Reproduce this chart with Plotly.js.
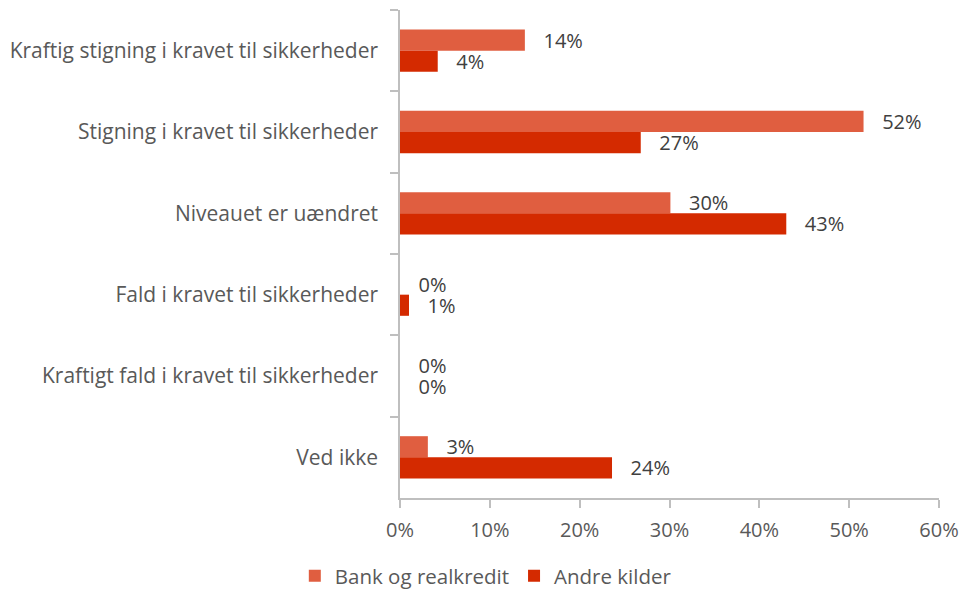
<!DOCTYPE html>
<html>
<head>
<meta charset="utf-8">
<script src="https://cdn.plot.ly/plotly-3.0.1.min.js"></script>
<style>
  body { margin: 0; background: #fff; }
  #chart { width: 962px; height: 596px; }
</style>
</head>
<body>
<div id="chart"></div>
<script>
// categories top to bottom
var categories = [
    "Kraftig stigning i kravet til sikkerheder",
    "Stigning i kravet til sikkerheder",
    "Niveauet er uændret",
    "Fald i kravet til sikkerheder",
    "Kraftigt fald i kravet til sikkerheder",
    "Ved ikke"
]
var bankValues = [13.9, 51.6, 30.1, 0, 0, 3.1]
var andreValues = [4.2, 26.8, 43.0, 1.0, 0, 23.6]
var xTicks = [0, 10, 20, 30, 40, 50, 60]
var xTickLabels = ["0%", "10%", "20%", "30%", "40%", "50%", "60%"]

var FONT = "'Open Sans', sans-serif"

function pctLabels(values){
    return values.map(v => "\u00a0\u00a0\u00a0" + Math.round(v) + "%")
}

function barTrace(name, values, color){
    return {
        type: "bar",
        orientation: "h",
        name: name,
        y: categories,
        x: values,
        text: pctLabels(values),
        textposition: "outside",
        constraintext: "none",
        cliponaxis: false,
        textfont: {family: FONT, size: 20, color: "#404040"},
        marker: {color: color, line: {width: 0}},
        hoverinfo: "x+name"
    }
}

var traces = [
    barTrace("Bank og realkredit", bankValues, "#E05E40"),
    barTrace("Andre kilder", andreValues, "#D42A00")
]

var layout = {
    width: 962,
    height: 596,
    margin: {l: 400, r: 23, t: 10, b: 98},
    paper_bgcolor: "#ffffff",
    plot_bgcolor: "#ffffff",
    barmode: "group",
    bargap: 0.48,
    bargroupgap: 0,
    font: {family: FONT, size: 20, color: "#595959"},
    showlegend: true,
    legend: {
        orientation: "h",
        xref: "container",
        yref: "container",
        x: 0.505,
        xanchor: "center",
        y: -0.028,
        yanchor: "bottom",
        font: {family: FONT, size: 20.5, color: "#595959"},
        itemwidth: 30,
        traceorder: "normal"
    },
    xaxis: {
        range: [0, 60],
        tickvals: xTicks,
        ticktext: xTickLabels,
        showgrid: false,
        zeroline: false,
        showline: true,
        linecolor: "#BFBFBF",
        linewidth: 1.5,
        ticks: "outside",
        ticklen: 8,
        tickcolor: "#BFBFBF",
        tickwidth: 1.5,
        ticklabelstandoff: 5,
        tickfont: {family: FONT, size: 20, color: "#595959"},
        fixedrange: true
    },
    yaxis: {
        type: "category",
        autorange: "reversed",
        showgrid: false,
        zeroline: false,
        showline: true,
        linecolor: "#BFBFBF",
        linewidth: 1.5,
        ticks: "outside",
        tickson: "boundaries",
        ticklen: 8,
        tickcolor: "#BFBFBF",
        tickwidth: 1.5,
        ticklabelstandoff: 16,
        tickfont: {family: FONT, size: 21, color: "#595959"},
        fixedrange: true
    }
}

Plotly.newPlot("chart", traces, layout, {displayModeBar: false, responsive: false})
</script>
</body>
</html>
